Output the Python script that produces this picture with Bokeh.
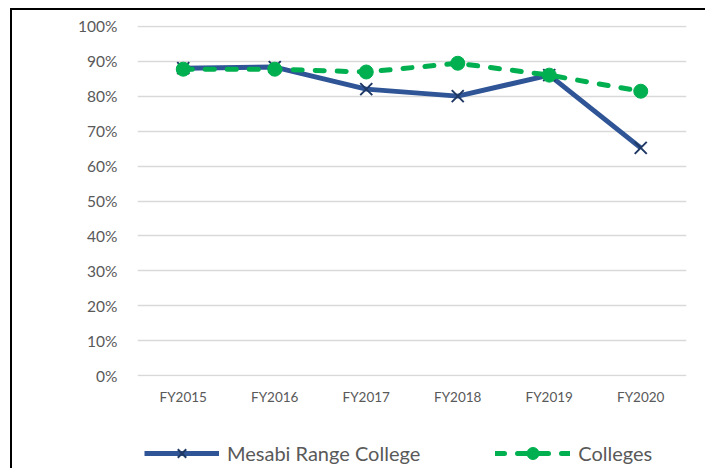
from bokeh.plotting import figure
from bokeh.layouts import column
from bokeh.models import Legend, LegendItem, NumeralTickFormatter, FixedTicker, Range1d
from bokeh.embed import file_html
from bokeh.resources import INLINE

years = ["FY2015", "FY2016", "FY2017", "FY2018", "FY2019", "FY2020"]
mesabi = [0.880, 0.883, 0.820, 0.800, 0.860, 0.652]
colleges = [0.877, 0.877, 0.869, 0.894, 0.860, 0.814]
y_ticks = [0.0, 0.1, 0.2, 0.3, 0.4, 0.5, 0.6, 0.7, 0.8, 0.9, 1.0]

TEXT = "#595959"
FONT = "Lato"
BLUE = "#2F5597"
NAVY = "#1F3864"
GREEN = "#00B050"
DASH = "9 13"

p = figure(x_range=years, y_range=Range1d(-0.002, 1.002), width=693, height=408,
           output_backend="svg", toolbar_location=None,
           min_border_left=125, min_border_right=19, min_border_top=15, min_border_bottom=42)
p.outline_line_color = None
p.xgrid.grid_line_color = None
p.ygrid.grid_line_color = "#D9D9D9"
p.ygrid.grid_line_width = 1.5

p.yaxis.ticker = FixedTicker(ticks=y_ticks)
p.yaxis.formatter = NumeralTickFormatter(format="0%")
for ax in (p.xaxis[0], p.yaxis[0]):
    ax.axis_line_color = None
    ax.major_tick_line_color = None
    ax.minor_tick_line_color = None
    ax.major_label_text_color = TEXT
    ax.major_label_text_font = FONT
p.yaxis.major_label_text_font_size = "15.5px"
p.yaxis.major_label_standoff = 14
p.xaxis.major_label_text_font_size = "13.5px"
p.xaxis.major_label_standoff = 6


def draw_series(fig, visible=True):
    a = fig.line(years, mesabi, line_width=5, color=BLUE, visible=visible)
    b = fig.scatter(years, mesabi, marker="x", size=17, line_color=NAVY, line_width=2, visible=visible)
    c = fig.line(years, colleges, line_width=5, color=GREEN, line_dash=DASH, line_cap="round", visible=visible)
    d = fig.scatter(years, colleges, marker="circle", size=14, fill_color=GREEN, line_color=GREEN, visible=visible)
    return a, b, c, d


draw_series(p)

# legend strip below the chart: hidden copies of the series feed the legend glyphs
q = figure(x_range=years, y_range=Range1d(0, 1), width=693, height=50,
           output_backend="svg", toolbar_location=None,
           min_border_left=0, min_border_right=0, min_border_top=0, min_border_bottom=0)
q.axis.visible = False
q.grid.visible = False
q.outline_line_color = None
l1, k1, l2, k2 = draw_series(q, visible=False)

legend = Legend(items=[LegendItem(label="Mesabi Range College", renderers=[l1, k1]),
                       LegendItem(label="Colleges", renderers=[l2, k2])],
                orientation="horizontal", location=(7, 0),
                glyph_width=75, glyph_height=30, label_standoff=8, spacing=75,
                label_text_font_size="20px", label_text_font=FONT, label_text_color=TEXT,
                border_line_color=None, background_fill_alpha=0, padding=0, margin=0,
                inactive_fill_alpha=0, click_policy="none")
q.add_layout(legend, "center")

layout = column(p, q, spacing=0)
layout.styles = {"border-left": "2px solid black", "border-top": "2px solid black",
                 "margin-left": "10px", "margin-top": "8px"}

open("out.html", "w").write(file_html(layout, INLINE))
